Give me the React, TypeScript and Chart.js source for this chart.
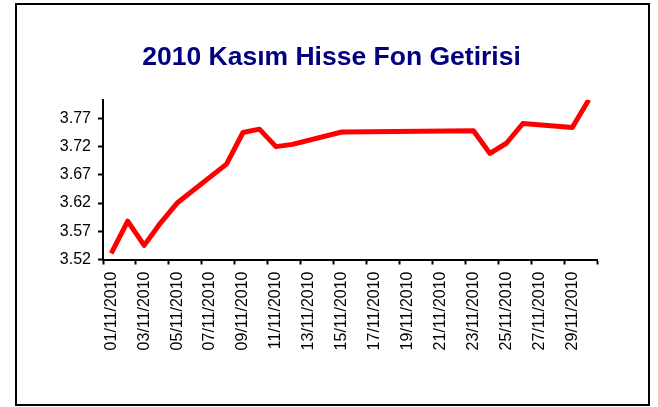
import React, { useEffect, useRef } from 'react';
import { Chart, registerables } from 'chart.js';

Chart.register(...registerables);

const dates: string[] = [
  '01/11/2010', '02/11/2010', '03/11/2010', '04/11/2010', '05/11/2010',
  '06/11/2010', '07/11/2010', '08/11/2010', '09/11/2010', '10/11/2010',
  '11/11/2010', '12/11/2010', '13/11/2010', '14/11/2010', '15/11/2010',
  '16/11/2010', '17/11/2010', '18/11/2010', '19/11/2010', '20/11/2010',
  '21/11/2010', '22/11/2010', '23/11/2010', '24/11/2010', '25/11/2010',
  '26/11/2010', '27/11/2010', '28/11/2010', '29/11/2010', '30/11/2010',
];

const fundValues: (number | null)[] = [
  3.531, 3.588, 3.545, 3.585, 3.620,
  null, null, 3.689, 3.745, 3.751,
  3.720, 3.724, null, null, 3.746,
  null, null, null, null, null,
  null, null, 3.748, 3.708, 3.726,
  3.761, null, null, 3.754, 3.803,
];

const yTickValues: number[] = [3.52, 3.57, 3.62, 3.67, 3.72, 3.77];
const yMin = 3.52;
const yMax = 3.803;
const titleText = '2010 Kasım Hisse Fon Getirisi';

const FONT = "'Liberation Sans', Arial, sans-serif";

export default function App() {
  const ref = useRef<HTMLCanvasElement>(null);

  useEffect(() => {
    const chart = new Chart(ref.current as HTMLCanvasElement, {
      type: 'line',
      data: {
        labels: dates,
        datasets: [
          {
            data: fundValues,
            borderColor: '#ff0000',
            backgroundColor: '#ff0000',
            borderWidth: 5,
            pointRadius: 0,
            tension: 0,
            spanGaps: true,
            clip: 0,
            borderJoinStyle: 'round',
            yAxisID: 'y',
          },
        ],
      },
      options: {
        responsive: false,
        animation: false,
        layout: { padding: { left: 5, right: 0, top: 0, bottom: 0 } },
        plugins: {
          legend: { display: false },
          tooltip: { enabled: false },
          title: {
            display: true,
            text: titleText,
            color: '#000080',
            font: { family: FONT, size: 26.5, weight: 'bold', lineHeight: 1.2 },
            padding: { top: 42, bottom: 26 },
          },
        },
        scales: {
          x: {
            offset: true,
            ticks: {
              autoSkip: false,
              maxRotation: 90,
              minRotation: 90,
              padding: 7,
              color: '#000',
              font: { family: FONT, size: 16 },
              callback: (_v: any, i: number) => (i % 2 === 0 ? dates[i] : ''),
            },
            grid: {
              offset: true,
              drawOnChartArea: false,
              drawTicks: true,
              tickLength: 5,
              tickWidth: 2,
              tickColor: (ctx: any) =>
                ctx.index === undefined || ctx.index % 2 === 0 ? '#000' : 'rgba(0,0,0,0)',
            },
            border: { display: true, color: '#000', width: 2 },
            afterFit: (s: any) => {
              s.height = 147.5;
            },
          },
          y: {
            position: 'left',
            min: yMin,
            max: yMax,
            ticks: {
              padding: 7,
              color: '#000',
              font: { family: FONT, size: 16 },
              callback: (v: any) => Number(v).toFixed(2),
            },
            grid: {
              drawOnChartArea: false,
              drawTicks: true,
              tickLength: 5,
              tickWidth: 2,
              tickColor: '#000',
            },
            border: { display: true, color: '#000', width: 2 },
            afterBuildTicks: (s: any) => {
              s.ticks = yTickValues.map((v) => ({ value: v }));
            },
            afterFit: (s: any) => {
              s.width = 98;
            },
          },
          yRightSpace: {
            position: 'right',
            display: true,
            min: 0,
            max: 1,
            grid: { display: false, drawTicks: false },
            border: { display: false },
            ticks: { display: false },
            afterFit: (s: any) => {
              s.width = 61;
            },
          },
        },
      },
    });
    return () => chart.destroy();
  }, []);

  return (
    <div
      style={{
        position: 'fixed',
        left: 0,
        top: 0,
        width: 658,
        height: 407,
        background: '#fff',
      }}
    >
      <canvas
        ref={ref}
        width={658}
        height={407}
        style={{ position: 'absolute', left: 0, top: 0 }}
      />
      <div
        style={{
          position: 'absolute',
          left: 15,
          top: 3,
          width: 635,
          height: 403,
          border: '2px solid #000',
          boxSizing: 'border-box',
          pointerEvents: 'none',
        }}
      />
    </div>
  );
}
